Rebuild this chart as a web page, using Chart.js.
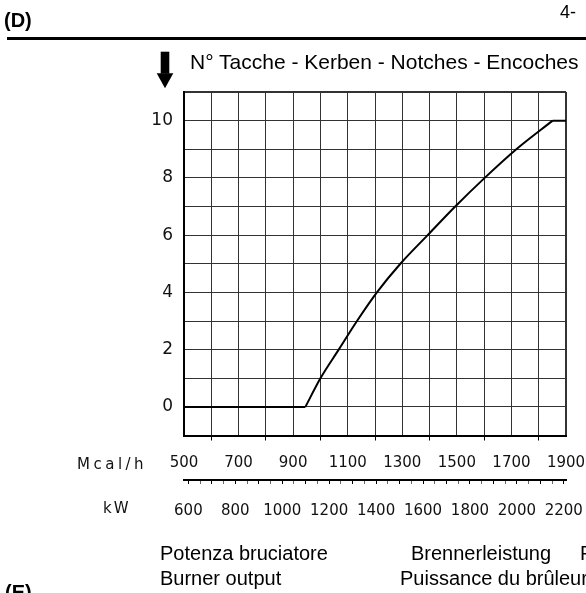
<!DOCTYPE html>
<html>
<head>
<meta charset="utf-8">
<script src="https://cdn.jsdelivr.net/npm/chart.js@4"></script>
<style>
  html, body { margin: 0; padding: 0; background: #fff; }
  #page { position: relative; width: 586px; height: 593px; overflow: hidden; font-family: "Liberation Sans", Arial, sans-serif; color: #000; }
  #page canvas { position: absolute; left: 0; top: 0; }
  .t { position: absolute; white-space: nowrap; font-size: 20px; line-height: 24px; }
  .b { font-weight: bold; }
  .ax { position: absolute; white-space: nowrap; font-family: "DejaVu Sans", sans-serif; font-size: 15px; line-height: 18px; color: #111; }
</style>
</head>
<body>
<div id="page">
  <canvas id="notchChart" width="586" height="593"></canvas>

  <div class="t b" style="left:4px; top:8px;">(D)</div>
  <div class="t" style="left:560px; top:0px; font-size:18px;">4-</div>
  <div style="position:absolute; left:7px; top:37px; width:579px; height:3px; background:#000;"></div>

  <svg style="position:absolute; left:150px; top:45px;" width="30" height="50">
    <rect x="10.7" y="6.7" width="8.6" height="22" fill="#000"/>
    <polygon points="6.7,28.3 23.3,28.3 15,43.3" fill="#000"/>
  </svg>
  <div class="t" style="left:190px; top:50px; font-size:21px;">N° Tacche - Kerben - Notches - Encoches</div>

  <div class="ax" style="left:77px; top:455px; letter-spacing:3.5px;">Mcal/h</div>
  <div class="ax" style="left:103px; top:499px; letter-spacing:2px;">kW</div>

  <div class="t" style="left:160px; top:541px;">Potenza bruciatore</div>
  <div class="t" style="left:411px; top:541px;">Brennerleistung</div>
  <div class="t" style="left:580px; top:541px;">Potencia del quemador</div>
  <div class="t" style="left:160px; top:566px;">Burner output</div>
  <div class="t" style="left:400px; top:566px;">Puissance du brûleur</div>
  <div class="t b" style="left:5px; top:580px;">(E)</div>
</div>

<script>
// burner output (Mcal/h) vs number of notches
const outputMcal = [500, 945, 1000, 1067, 1134, 1207, 1293, 1393, 1494, 1602, 1718, 1851, 1900];
const notches    = [0,   0,   1,    2,    3,    4,    5,    6,    7,    8,    9,    10,   10];

const mcalLabels = [500, 700, 900, 1100, 1300, 1500, 1700, 1900];
const kwLabels = [600, 800, 1000, 1200, 1400, 1600, 1800, 2000, 2200];
const kwMarks = [600, 650, 700, 750, 800, 850, 900, 950, 1000, 1050, 1100, 1150, 1200, 1250,
  1300, 1350, 1400, 1450, 1500, 1550, 1600, 1650, 1700, 1750, 1800, 1850, 1900, 1950,
  2000, 2050, 2100, 2150, 2200];
const notchLabels = [0, 2, 4, 6, 8, 10];

const MCAL_PER_KW = 0.86;
const xMin = 500, xMax = 1900;

const gridColor = '#333';

const points = outputMcal.map((x, i) => ({ x: x, y: notches[i] }));
const last = points.length - 1;

// keep the plot box where the drawing has it: no extra room for edge labels
function noEdgePadding(s) {
  s.paddingLeft = 0;
  s.paddingRight = 0;
  s.paddingTop = 0;
  s.paddingBottom = 0;
}

function curve(data, smooth) {
  return {
    data: data,
    showLine: true,
    borderColor: '#000',
    borderWidth: 2,
    pointRadius: 0,
    tension: 0,
    cubicInterpolationMode: smooth ? 'monotone' : 'default',
    xAxisID: 'x',
    yAxisID: 'y'
  };
}

new Chart(document.getElementById('notchChart'), {
  type: 'scatter',
  data: {
    datasets: [
      curve(points.slice(0, 2), false),      // flat at 0 notches
      curve(points.slice(1, last), true),    // rising part
      curve(points.slice(last - 1), false)   // flat at 10 notches
    ]
  },
  options: {
    responsive: false,
    animation: false,
    devicePixelRatio: 1,
    layout: { padding: { top: 92, right: 20, bottom: 50, left: 0 } },
    plugins: {
      legend: { display: false },
      tooltip: { enabled: false }
    },
    scales: {
      x: {
        type: 'linear',
        position: 'bottom',
        min: xMin,
        max: xMax,
        afterFit: s => { s.height = 44.5; noEdgePadding(s); },
        ticks: {
          stepSize: 100,
          autoSkip: false,
          maxRotation: 0,
          padding: 14,
          color: '#111',
          font: { family: 'DejaVu Sans', size: 15 },
          callback: v => mcalLabels.includes(v) ? String(v) : ''
        },
        grid: {
          color: gridColor,
          lineWidth: c => (c.tick && c.tick.value === xMax) ? 2 : 1,
          tickLength: 5,
          tickColor: c => (c.tick && (c.tick.value - xMin) % 200 === 100) ? '#000' : 'rgba(0,0,0,0)'
        },
        border: { display: true, color: '#000', width: 2 }
      },
      kw: {
        type: 'linear',
        axis: 'x',
        position: 'bottom',
        min: xMin / MCAL_PER_KW,
        max: xMax / MCAL_PER_KW,
        afterFit: s => { s.height = 63; noEdgePadding(s); },
        afterBuildTicks: s => { s.ticks = kwMarks.map(v => ({ value: v })); },
        ticks: {
          autoSkip: false,
          maxRotation: 0,
          padding: 18,
          color: '#111',
          font: { family: 'DejaVu Sans', size: 15 },
          callback: v => kwLabels.includes(v) ? String(v) : ''
        },
        grid: {
          drawOnChartArea: false,
          tickLength: 4,
          tickColor: c => (c.tick && c.tick.value % 100 === 0) ? '#000' : '#666'
        },
        border: { display: true, color: '#000', width: 2 }
      },
      y: {
        type: 'linear',
        min: -1,
        max: 11,
        afterFit: s => { s.width = 184; noEdgePadding(s); },
        ticks: {
          stepSize: 1,
          autoSkip: false,
          padding: 11,
          color: '#111',
          font: { family: 'DejaVu Sans', size: 17 },
          callback: v => notchLabels.includes(v) ? String(v) : ''
        },
        grid: {
          color: gridColor,
          lineWidth: c => (c.tick && c.tick.value === 11) ? 2 : 1,
          drawTicks: false
        },
        border: { display: true, color: '#000', width: 2 }
      }
    }
  }
});
</script>
</body>
</html>
